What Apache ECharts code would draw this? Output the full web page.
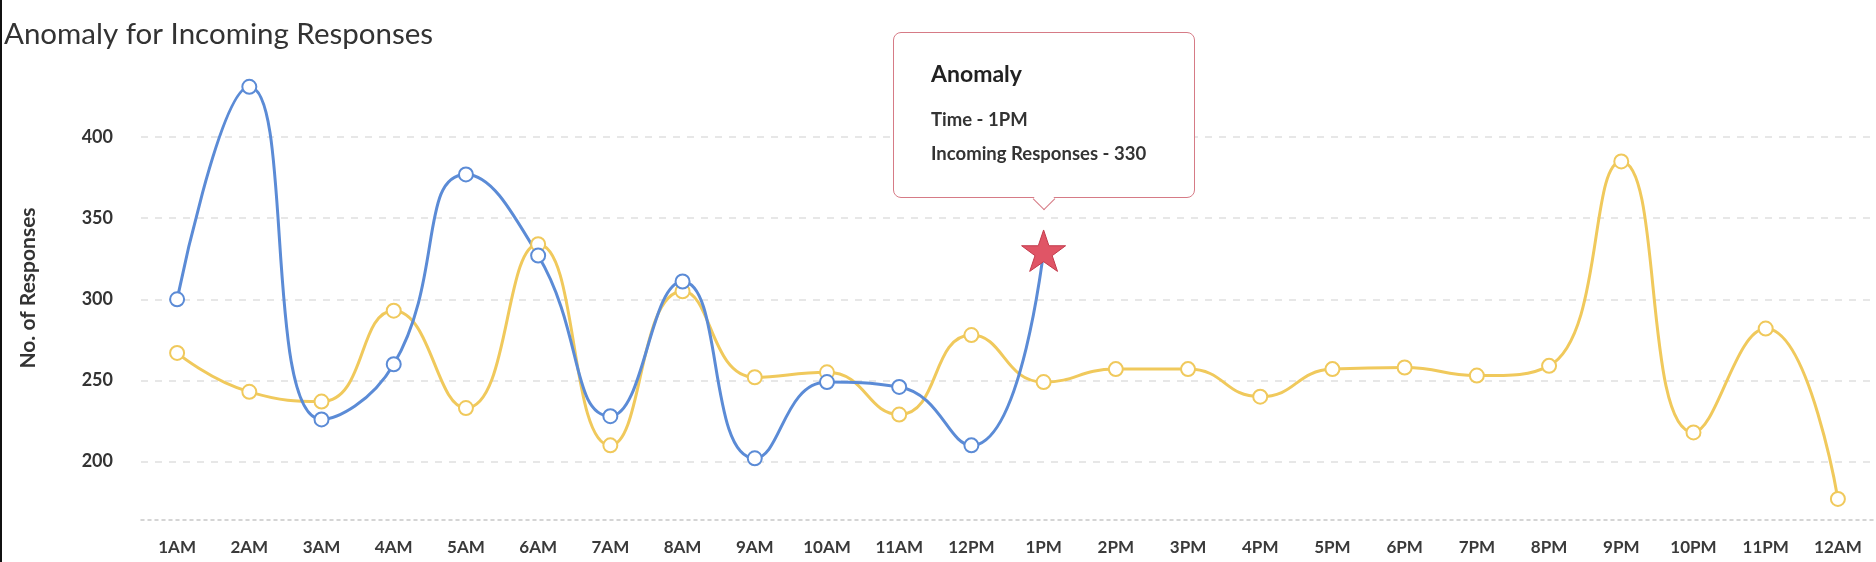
<!DOCTYPE html>
<html>
<head>
<meta charset="utf-8">
<title>Anomaly for Incoming Responses</title>
<script src="https://cdn.jsdelivr.net/npm/echarts@6/dist/echarts.min.js"></script>
<style>
    html, body { margin: 0; padding: 0; background: #fff; }
    #chart { width: 1876px; height: 562px; position: relative; }
    #edge { position: absolute; left: 0; top: 0; width: 2px; height: 562px; background: #111; z-index: 10; }
</style>
</head>
<body>
<div id="chart"></div>
<div id="edge"></div>
<script>
// 时间轴
var hours = ["1AM", "2AM", "3AM", "4AM", "5AM", "6AM", "7AM", "8AM", "9AM", "10AM", "11AM", "12PM",
    "1PM", "2PM", "3PM", "4PM", "5PM", "6PM", "7PM", "8PM", "9PM", "10PM", "11PM", "12AM"];
// 实际收到的回复 (到 1PM 为止)
var incoming = [300, 431, 226, 260, 377, 327, 228, 311, 202, 249, 246, 210, 330];
// 基准曲线
var baseline = [267, 243, 237, 293, 233, 334, 210, 305, 252, 255, 229, 278,
    249, 257, 257, 240, 257, 258, 253, 259, 385, 218, 282, 177];
var anomalyIndex = 12;

var font = "Lato, 'Open Sans', sans-serif";
var blue = "#5b8bd6";
var yellow = "#f0c95c";
var starPath = "path://M50,0 L61.8,35.1 L98.9,35.1 L69.1,57.1 L80.9,92.1 L50,70.5 L19.1,92.1 L30.9,57.1 L1.1,35.1 L38.2,35.1 Z";

var chartDom = document.getElementById("chart");
var myChart = echarts.init(chartDom);

var incomingData = incoming.map(function(v, i) {
    if (i !== anomalyIndex) return v;
    return {
        value: v,
        symbol: starPath,
        symbolSize: 44,
        symbolKeepAspect: true,
        itemStyle: { color: "#e05566", borderColor: "#c23b4c", borderWidth: 1 }
    };
});

var option = {
    animation: false,
    textStyle: { fontFamily: font },
    title: {
        text: "Anomaly for Incoming Responses",
        left: 4,
        top: 19,
        padding: 0,
        textStyle: { fontFamily: font, fontSize: 29.5, fontWeight: "normal", color: "#333" }
    },
    grid: { left: 141, right: 2, top: 56, bottom: 42, containLabel: false, outerBoundsMode: "none" },
    tooltip: {
        trigger: "item",
        alwaysShowContent: true,
        transitionDuration: 0,
        padding: 0,
        backgroundColor: "#fff",
        borderColor: "#d67b86",
        borderWidth: 1.5,
        borderRadius: 8,
        extraCssText: "box-shadow:none;",
        position: function(point, params, dom, rect, size) {
            var w = size.contentSize[0], h = size.contentSize[1];
            return [point[0] - w / 2, point[1] - h - 53];
        },
        formatter: function(p) {
            return "<div style='position:relative;width:300px;height:164px;font-family:" + font + ";color:#2a2a2a;'>" +
                "<div style='position:absolute;left:37px;top:27px;font-size:23px;font-weight:700;line-height:26px;color:#222;'>Anomaly</div>" +
                "<div style='position:absolute;left:37px;top:75px;font-size:18.5px;font-weight:700;line-height:22px;color:#333;'>Time - " + p.name + "</div>" +
                "<div style='position:absolute;left:37px;top:109px;font-size:18.5px;font-weight:700;line-height:22px;color:#333;'>Incoming Responses - " + p.value + "</div>" +
                "<div style='position:absolute;left:142px;bottom:-9.5px;width:15px;height:15px;background:#fff;" +
                "border-right:1.5px solid #d67b86;border-bottom:1.5px solid #d67b86;transform:rotate(45deg);'></div>" +
                "</div>";
        }
    },
    xAxis: {
        type: "category",
        data: hours,
        boundaryGap: true,
        axisLine: { lineStyle: { color: "#c8c8c8", type: [3, 4], width: 1.5 } },
        axisTick: { show: false },
        axisLabel: { margin: 19, fontSize: 17, fontWeight: "bold", color: "#3a3a3a", fontFamily: font }
    },
    yAxis: {
        type: "value",
        min: 164,
        max: 450,
        name: "No. of Responses",
        nameLocation: "middle",
        nameGap: 102,
        nameTextStyle: { fontSize: 21, fontWeight: "bold", color: "#333", fontFamily: font },
        axisLine: { show: false },
        axisTick: { show: false },
        axisLabel: { margin: 28, fontSize: 18, fontWeight: "bold", color: "#333", fontFamily: font,
            showMinLabel: false, showMaxLabel: false },
        splitLine: { showMinLine: false, showMaxLine: false,
            lineStyle: { color: "#e0e0e0", type: [7, 7], width: 1.5 } }
    },
    series: [{
        name: "Expected",
        type: "line",
        data: baseline,
        smooth: 0.5,
        symbol: "emptyCircle",
        symbolSize: 14,
        clip: false,
        lineStyle: { color: yellow, width: 3 },
        itemStyle: { color: yellow, borderWidth: 2.5 },
        tooltip: { show: false }
    }, {
        name: "Incoming Responses",
        type: "line",
        data: incomingData,
        smooth: 0.5,
        symbol: "emptyCircle",
        symbolSize: 14,
        clip: false,
        lineStyle: { color: blue, width: 3 },
        itemStyle: { color: blue, borderWidth: 2.5 }
    }]
};
myChart.setOption(option);

function showAnomaly() {
    myChart.dispatchAction({ type: "showTip", seriesIndex: 1, dataIndex: anomalyIndex });
}
showAnomaly();
setTimeout(showAnomaly, 50);
</script>
</body>
</html>
